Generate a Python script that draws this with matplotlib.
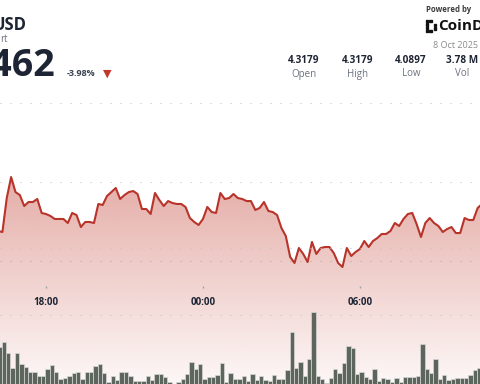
import numpy as np
import pandas as pd
import matplotlib
matplotlib.use("Agg")
import matplotlib.pyplot as plt
import matplotlib.dates as mdates
from matplotlib.patches import Rectangle

plt.rcParams['font.family'] = ['Open Sans', 'DejaVu Sans']

# 10-minute candles, 7 Oct 16:10 -> 8 Oct 10:40
times = pd.date_range("2025-10-07 16:10", periods=112, freq="10min")

prices = [
    4.2380, 4.2367, 4.2797, 4.3063, 4.2873, 4.2835, 4.2696, 4.2747, 4.2747, 4.2785,
    4.2608, 4.2595, 4.2570, 4.2532, 4.2532, 4.2532, 4.2481, 4.2608, 4.2582, 4.2430,
    4.2494, 4.2494, 4.2481, 4.2722, 4.2709, 4.2823, 4.2873, 4.2924, 4.2785, 4.2835,
    4.2873, 4.2886, 4.2848, 4.2658, 4.2658, 4.2595, 4.2861, 4.2772, 4.2696, 4.2759,
    4.2734, 4.2722, 4.2722, 4.2684, 4.2544, 4.2494, 4.2456, 4.2532, 4.2684, 4.2620,
    4.2608, 4.2861, 4.2785, 4.2797, 4.2848, 4.2797, 4.2785, 4.2759, 4.2759, 4.2646,
    4.2671, 4.2747, 4.2633, 4.2620, 4.2582, 4.2418, 4.2316, 4.2051, 4.1975, 4.2165,
    4.2089, 4.1987, 4.2241, 4.2089, 4.2165, 4.2177, 4.2177, 4.2101, 4.1975, 4.1924,
    4.2165, 4.2063, 4.2114, 4.2152, 4.2253, 4.2177, 4.2253, 4.2291, 4.2342, 4.2342,
    4.2380, 4.2481, 4.2443, 4.2532, 4.2595, 4.2608, 4.2468, 4.2304, 4.2481, 4.2544,
    4.2481, 4.2443, 4.2367, 4.2405, 4.2430, 4.2354, 4.2354, 4.2544, 4.2519, 4.2519,
    4.2671, 4.2722,
]

# volume per candle, thousands
volumes = [
    97.5, 110, 82.5, 45, 82.5, 55, 47.5, 35, 35, 25,
    25, 42.5, 52.5, 35, 17.5, 20, 25, 32.5, 35, 17.5,
    35, 35, 50, 55, 32.5, 10, 25, 15, 35, 35,
    25, 12.5, 12.5, 12.5, 25, 15, 30, 29, 23, 11,
    6, 11, 17.5, 30, 61, 42, 55, 17.5, 23, 22,
    27.5, 57, 11, 32, 17.5, 17.5, 25, 12.5, 30, 15,
    25, 15, 13, 27.5, 17.5, 17.5, 40, 136, 46, 61,
    26, 67.5, 186, 26, 17.5, 7, 19, 42, 32, 58,
    100, 94, 30, 34, 22, 17.5, 42, 13, 19, 17.5,
    9, 19, 11, 23, 22, 23, 26, 105, 42, 32,
    67, 17.5, 27.5, 15, 17, 21, 19, 21, 27.5, 40,
    46, 32,
]

tick_times = pd.to_datetime(["2025-10-07 18:00", "2025-10-08 00:00", "2025-10-08 06:00"])
view = (pd.Timestamp("2025-10-07 16:14:30"), pd.Timestamp("2025-10-08 10:35:24"))

line_red = "#b8342a"
fill_red = np.array([192, 57, 43]) / 255
ink = "#1d2433"
grey = "#6b7280"
dots = dict(color="#c4c4c4", linewidth=0.75, dashes=(1, 8.6))

fig = plt.figure(figsize=(4.8, 3.84), dpi=100)

# price panel
ax = fig.add_axes([0, 0, 1, 1])
ax.set_xlim(view)
ax.set_ylim(4.0443, 4.5304)
ax.set_yticks([4.2, 4.3, 4.4])
ax.grid(axis="y", **dots)
ax.set_axisbelow(True)
ax.tick_params(left=False, bottom=False, labelleft=False, labelbottom=False)
for s in ax.spines.values():
    s.set_visible(False)

# gradient under the price line
ylo, yhi = ax.get_ylim()
n = 256
alpha = np.linspace(0.04, 0.42, n)
rgba = np.zeros((n, 1, 4))
rgba[:, 0, :3] = fill_red
rgba[:, 0, 3] = alpha
x0, x1 = mdates.date2num(view)
im = ax.imshow(rgba, extent=[x0, x1, ylo, 4.31], origin="lower", aspect="auto", zorder=1)
area = ax.fill_between(times, prices, ylo, facecolor="none", edgecolor="none")
im.set_clip_path(area.get_paths()[0], transform=ax.transData)
ax.plot(times, prices, color=line_red, linewidth=1.5, solid_joinstyle="round", zorder=4)
ax.set_xlim(view)
ax.set_ylim(ylo, yhi)

# volume panel
axv = fig.add_axes([0, 0, 1, 1])
axv.patch.set_visible(False)
axv.set_xlim(view)
axv.set_ylim(5, 965)
axv.set_yticks([177.5, 345])
axv.grid(axis="y", **dots)
axv.set_axisbelow(True)
axv.tick_params(left=False, bottom=False, labelleft=False, labelbottom=False)
for s in axv.spines.values():
    s.set_visible(False)
axv.bar(times + pd.Timedelta(minutes=3.5), volumes, width=pd.Timedelta(minutes=10),
        color="#5c665c", edgecolor="#d7d7d7", linewidth=0.5, zorder=3)

# time axis inside the plot
axt = fig.add_axes([0, 1 - 285.5 / 384, 1, 0.0001])
axt.patch.set_visible(False)
axt.set_xlim(view)
axt.set_xticks(tick_times)
axt.xaxis.set_major_formatter(mdates.DateFormatter("%H:%M"))
axt.set_yticks([])
for s in axt.spines.values():
    s.set_visible(False)
axt.tick_params(axis="x", length=1.5, width=1, color="#9aa0a6", pad=7,
                labelsize=7, labelcolor=ink)
for lbl in axt.get_xticklabels():
    lbl.set_fontweight("bold")

# header (the reference is cropped on the left and right)
fig.text(27 / 480, 1 - 25 / 384, "USD", fontsize=12, fontweight="bold", color=ink,
         va="center", ha="right")
fig.text(0 / 480, 1 - 39 / 384, "rt", fontsize=7, color=grey, va="center")
fig.text(55 / 480, 1 - 66 / 384, "4.1462", fontsize=27, fontweight="bold", color=ink,
         va="center", ha="right")
fig.text(67 / 480, 1 - 73 / 384, "-3.98%", fontsize=6.5, fontweight="bold", color="#3a4150", va="center")
fig.text(107.5 / 480, 1 - 74 / 384, "\u25BC", fontsize=8, color="#c0392b", va="center", ha="center",
         family="DejaVu Sans")

stats = [("4.3179", "Open", 304), ("4.3179", "High", 358), ("4.0897", "Low", 411), ("3.78 M", "Vol", 462)]
for val, lab, cx in stats:
    fig.text(cx / 480, 1 - 60.5 / 384, val, fontsize=7.2, fontweight="bold", color=ink, ha="center", va="center")
    fig.text(cx / 480, 1 - 74 / 384, lab, fontsize=7, color=grey, ha="center", va="center")

fig.text(426 / 480, 1 - 9.5 / 384, "Powered by", fontsize=5.6, fontweight="bold", color="#3c3c3c", va="center")
fig.text(438 / 480, 1 - 26.5 / 384, "CoinDesk", fontsize=11, fontweight="bold", color="#111111", va="center")
fig.text(433 / 480, 1 - 45.5 / 384, "8 Oct 2025", fontsize=6.5, color="#8c8c8c", va="center")

# logo mark: bracket of small blocks with a colon
for cx, cy in [(426, 20), (429.3, 20), (426, 23.4), (426, 26.8), (426, 30.2), (429.3, 30.2),
               (433.5, 23.6), (433.5, 27.4)]:
    fig.patches.append(Rectangle((cx / 480, 1 - (cy + 2.2) / 384), 2.2 / 480, 2.2 / 384,
                                 transform=fig.transFigure, color="#111111", figure=fig))

fig.savefig("out.png", dpi=100)
